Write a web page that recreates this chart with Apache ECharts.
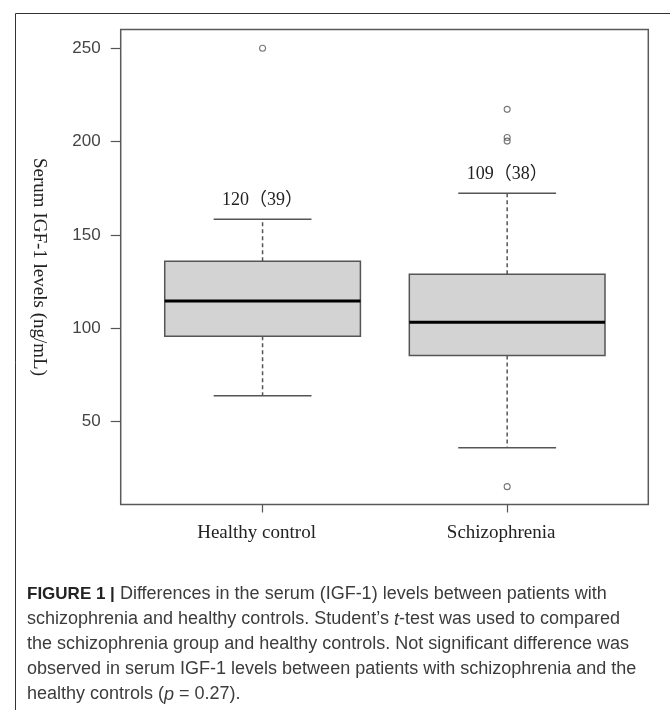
<!DOCTYPE html>
<html>
<head>
<meta charset="utf-8">
<script src="https://cdn.jsdelivr.net/npm/echarts@6/dist/echarts.min.js"></script>
<style>
html,body{margin:0;padding:0;background:#fff;}
#chart{width:670px;height:710px;}
</style>
</head>
<body>
<div id="chart"></div>
<script>
// ---- data ----
const categories = ['Healthy control', 'Schizophrenia'];
const categoryPos = [1, 2];
// [min whisker, Q1, median, Q3, max whisker]
const healthyBox = [63.9, 95.8, 114.6, 136.0, 158.4];
const schizoBox = [36.1, 85.4, 103.3, 129.0, 172.3];
const healthyOutliers = [250];
const schizoOutliers = [217.3, 202.2, 200.3, 15.2];
const annotations = ['120（39）', '109（38）'];
const yTicks = [50, 100, 150, 200, 250];
const yAxisTitle = 'Serum IGF-1 levels (ng/mL)';
const captionLines = [
  '{b|FIGURE 1 |} Differences in the serum (IGF-1) levels between patients with',
  'schizophrenia and healthy controls. Student’s {i|t}-test was used to compared',
  'the schizophrenia group and healthy controls. Not significant difference was',
  'observed in serum IGF-1 levels between patients with schizophrenia and the',
  'healthy controls ({i|p} = 0.27).'
];

const boxData = [
  [categoryPos[0]].concat(healthyBox).concat([0]),
  [categoryPos[1]].concat(schizoBox).concat([1])
];
const outlierData = [];
healthyOutliers.forEach(v => outlierData.push([categoryPos[0], v]));
schizoOutliers.forEach(v => outlierData.push([categoryPos[1], v]));

const BOX_HALF = 0.4, CAP_HALF = 0.2;
const strokeCol = '#555';

function renderBox(params, api) {
  const x = api.value(0);
  const mn = api.value(1), q1 = api.value(2), md = api.value(3), q3 = api.value(4), mx = api.value(5);
  const idx = api.value(6);
  const pMin = api.coord([x, mn]), pQ1 = api.coord([x, q1]), pMd = api.coord([x, md]),
        pQ3 = api.coord([x, q3]), pMx = api.coord([x, mx]);
  const bl = api.coord([x - BOX_HALF, q3]), br = api.coord([x + BOX_HALF, q1]);
  const cl = api.coord([x - CAP_HALF, mx])[0], cr = api.coord([x + CAP_HALF, mx])[0];
  const ml = api.coord([x - BOX_HALF, md])[0], mr = api.coord([x + BOX_HALF, md])[0];
  const dash = {stroke: strokeCol, lineWidth: 1.5, lineDash: [4, 3]};
  const solid = {stroke: strokeCol, lineWidth: 1.5};
  return {
    type: 'group',
    children: [
      {type: 'line', shape: {x1: pQ3[0], y1: pQ3[1], x2: pMx[0], y2: pMx[1]}, style: dash},
      {type: 'line', shape: {x1: pQ1[0], y1: pQ1[1], x2: pMin[0], y2: pMin[1]}, style: dash},
      {type: 'line', shape: {x1: cl, y1: pMx[1], x2: cr, y2: pMx[1]}, style: solid},
      {type: 'line', shape: {x1: cl, y1: pMin[1], x2: cr, y2: pMin[1]}, style: solid},
      {type: 'rect', shape: {x: bl[0], y: bl[1], width: br[0] - bl[0], height: br[1] - bl[1]},
        style: {fill: '#d3d3d3', stroke: strokeCol, lineWidth: 1.5}},
      {type: 'line', shape: {x1: ml, y1: pMd[1], x2: mr, y2: pMd[1]}, style: {stroke: '#000', lineWidth: 3}},
      {type: 'text', x: pMx[0], y: pMx[1] - 19,
        style: {text: annotations[idx], fill: '#222', font: '18px "Liberation Serif", "Noto Sans CJK SC", serif',
          align: 'center', verticalAlign: 'middle'}}
    ]
  };
}

const chart = echarts.init(document.getElementById('chart'));
chart.setOption({
  animation: false,
  backgroundColor: '#fff',
  graphic: [{
    type: 'rect', left: 13, top: 11, z: -1,
    shape: {width: 655, height: 720},
    style: {fill: 'none', stroke: '#333', lineWidth: 1}
  }],
  title: {
    left: 22, top: 577,
    text: captionLines.join('\n'),
    textStyle: {
      fontFamily: '"Liberation Sans", Arial, sans-serif',
      fontSize: 18, fontWeight: 'normal', color: '#3c3c3c', lineHeight: 25,
      rich: {
        b: {fontFamily: '"Liberation Sans", Arial, sans-serif', fontWeight: 'bold', fontSize: 17, color: '#222', lineHeight: 25},
        i: {fontFamily: '"Liberation Sans", Arial, sans-serif', fontStyle: 'italic', fontSize: 18, color: '#3c3c3c', lineHeight: 25}
      }
    }
  },
  grid: {
    left: 120.7, top: 29.5, width: 527.6, height: 475,
    show: true, borderColor: '#5a5a5a', borderWidth: 1.5, backgroundColor: 'transparent'
  },
  xAxis: {
    type: 'value', min: 0.42, max: 2.577,
    splitLine: {show: false},
    axisLine: {show: false},
    axisTick: {show: true, customValues: categoryPos, length: 8, lineStyle: {color: '#555', width: 1.2}},
    axisLabel: {
      customValues: categoryPos,
      formatter: v => categories[categoryPos.indexOf(v)],
      fontFamily: '"Liberation Serif", "Times New Roman", serif', fontSize: 19, color: '#222',
      margin: 19, padding: [0, 12, 0, 0]
    }
  },
  yAxis: {
    type: 'value', min: 5.65, max: 260.07,
    splitLine: {show: false},
    axisLine: {show: false},
    axisTick: {show: true, customValues: yTicks, length: 10, lineStyle: {color: '#555', width: 1.2}},
    axisLabel: {
      customValues: yTicks,
      fontFamily: '"Liberation Sans", Arial, sans-serif', fontSize: 17, color: '#444',
      margin: 20
    },
    name: yAxisTitle,
    nameLocation: 'middle',
    nameRotate: -90,
    nameGap: 72,
    nameTextStyle: {fontFamily: '"Liberation Serif", "Times New Roman", serif', fontSize: 19, color: '#222'}
  },
  series: [
    {
      type: 'custom',
      renderItem: renderBox,
      data: boxData,
      encode: {x: 0, y: [1, 2, 3, 4, 5]},
      z: 2
    },
    {
      type: 'scatter',
      data: outlierData,
      symbol: 'circle',
      symbolSize: 6,
      itemStyle: {color: 'transparent', borderColor: '#555', borderWidth: 1.1},
      z: 3
    }
  ]
});
</script>
</body>
</html>
